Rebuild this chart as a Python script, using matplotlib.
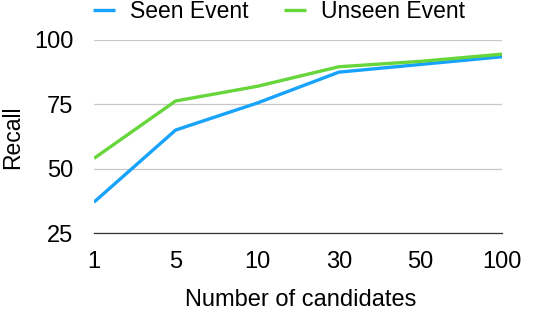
import numpy as np
import matplotlib.pyplot as plt

plt.rcParams['font.family'] = ['Liberation Sans', 'DejaVu Sans']

candidates = ['1', '5', '10', '30', '50', '100']
seen = [37, 65, 75.5, 87.5, 90.5, 93.5]
unseen = [54, 76.3, 82, 89.6, 91.7, 94.5]

x = np.arange(len(candidates))

fig = plt.figure(figsize=(5.42, 3.12), dpi=100)
ax = fig.add_axes([94 / 542, 1 - 233 / 312, 408 / 542, 193 / 312])

ax.plot(x, seen, color='#17a2fb', lw=2.4, label='Seen Event', solid_capstyle='butt')
ax.plot(x, unseen, color='#66d63a', lw=2.4, label='Unseen Event', solid_capstyle='butt')

ax.set_xlim(0, 5)
ax.set_ylim(25, 100)
ax.set_yticks([25, 50, 75, 100])
ax.set_xticks(x)
ax.set_xticklabels(candidates)
ax.grid(axis='y', color='#c8c8c8', lw=0.9)
ax.set_axisbelow(True)
for s in ['top', 'right', 'left']:
    ax.spines[s].set_visible(False)
ax.spines['bottom'].set_color('#333333')
ax.spines['bottom'].set_linewidth(0.9)
ax.tick_params(length=0, labelsize=17)
ax.tick_params(axis='y', pad=15)
ax.tick_params(axis='x', pad=13)

fig.text(301 / 542, 1 - 300 / 312, 'Number of candidates', ha='center', va='center',
         fontsize=17)
fig.text(13 / 542, 1 - 137 / 312, 'Recall', rotation=90, ha='center', va='center',
         fontsize=16.5)

fig.legend(*ax.get_legend_handles_labels(), loc='center',
           bbox_to_anchor=(279 / 542, 1 - 12 / 312), ncol=2, frameon=False,
           fontsize=16.5, handlelength=0.95, columnspacing=1.55, handletextpad=0.65,
           borderaxespad=0, borderpad=0)

fig.savefig('out.png', dpi=100)
